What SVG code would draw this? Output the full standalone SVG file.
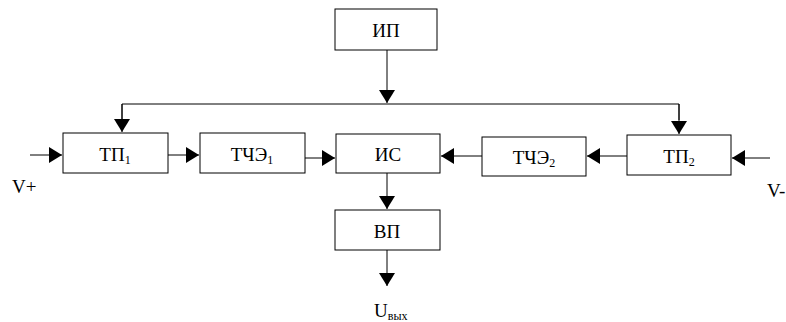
<svg xmlns="http://www.w3.org/2000/svg" width="786" height="322" viewBox="0 0 786 322">
<style>
  .box{fill:#fff;stroke:#000;stroke-width:1}
  .t{font-family:'Times New Roman','Liberation Serif','DejaVu Serif',serif;font-size:19px;fill:#000;text-anchor:middle}
  .l{font-family:'Times New Roman','Liberation Serif','DejaVu Serif',serif;font-size:19px;fill:#000}
  .sub{font-size:12px}
  .c{fill:none;stroke:#000;stroke-width:1}
</style>
<defs>
  <marker id="ah" viewBox="0 0 13 16" refX="13" refY="8" markerWidth="13" markerHeight="16" markerUnits="userSpaceOnUse" orient="auto">
    <path d="M0,0 L13,8 L0,16 z" fill="#000"/>
  </marker>
</defs>
<rect width="786" height="322" fill="#fff"/>
<g id="connectors">
  <line class="c" x1="387" y1="50" x2="387" y2="103" marker-end="url(#ah)"/>
  <polyline class="c" points="122,120 122,104 679,104 679,120"/>
  <line class="c" x1="122" y1="104" x2="122" y2="132" marker-end="url(#ah)"/>
  <line class="c" x1="679" y1="104" x2="679" y2="134" marker-end="url(#ah)"/>
  <line class="c" x1="30" y1="155" x2="62" y2="155" marker-end="url(#ah)"/>
  <line class="c" x1="168" y1="155" x2="199" y2="155" marker-end="url(#ah)"/>
  <line class="c" x1="305" y1="158" x2="335" y2="158" marker-end="url(#ah)"/>
  <line class="c" x1="482" y1="156" x2="441" y2="156" marker-end="url(#ah)"/>
  <line class="c" x1="627" y1="156" x2="587" y2="156" marker-end="url(#ah)"/>
  <line class="c" x1="770" y1="158" x2="732" y2="158" marker-end="url(#ah)"/>
  <line class="c" x1="387" y1="173" x2="387" y2="209" marker-end="url(#ah)"/>
  <line class="c" x1="387" y1="250" x2="387" y2="286" marker-end="url(#ah)"/>
</g>
<g id="ip">
  <rect class="box" x="335" y="9" width="102" height="41"/>
  <text class="t" x="386" y="37">ИП</text>
</g>
<g id="tp1">
  <rect class="box" x="63" y="133" width="105" height="40"/>
  <text class="t" x="115" y="161">ТП<tspan class="sub" dy="3">1</tspan></text>
</g>
<g id="tche1">
  <rect class="box" x="200" y="133" width="105" height="40"/>
  <text class="t" x="252" y="161">ТЧЭ<tspan class="sub" dy="3">1</tspan></text>
</g>
<g id="is">
  <rect class="box" x="336" y="134" width="104" height="39"/>
  <text class="t" x="388" y="161">ИС</text>
</g>
<g id="tche2">
  <rect class="box" x="482" y="137" width="104" height="39"/>
  <text class="t" x="534" y="164">ТЧЭ<tspan class="sub" dy="3">2</tspan></text>
</g>
<g id="tp2">
  <rect class="box" x="627" y="135" width="104" height="40"/>
  <text class="t" x="679" y="163">ТП<tspan class="sub" dy="3">2</tspan></text>
</g>
<g id="vp">
  <rect class="box" x="335" y="210" width="105" height="40"/>
  <text class="t" x="387" y="238">ВП</text>
</g>
<g id="labels">
  <text class="l" x="12" y="193">V+</text>
  <text class="l" x="767" y="197">V-</text>
  <text class="l" x="374" y="317">U<tspan class="sub" dy="3">вых</tspan></text>
</g>
</svg>
